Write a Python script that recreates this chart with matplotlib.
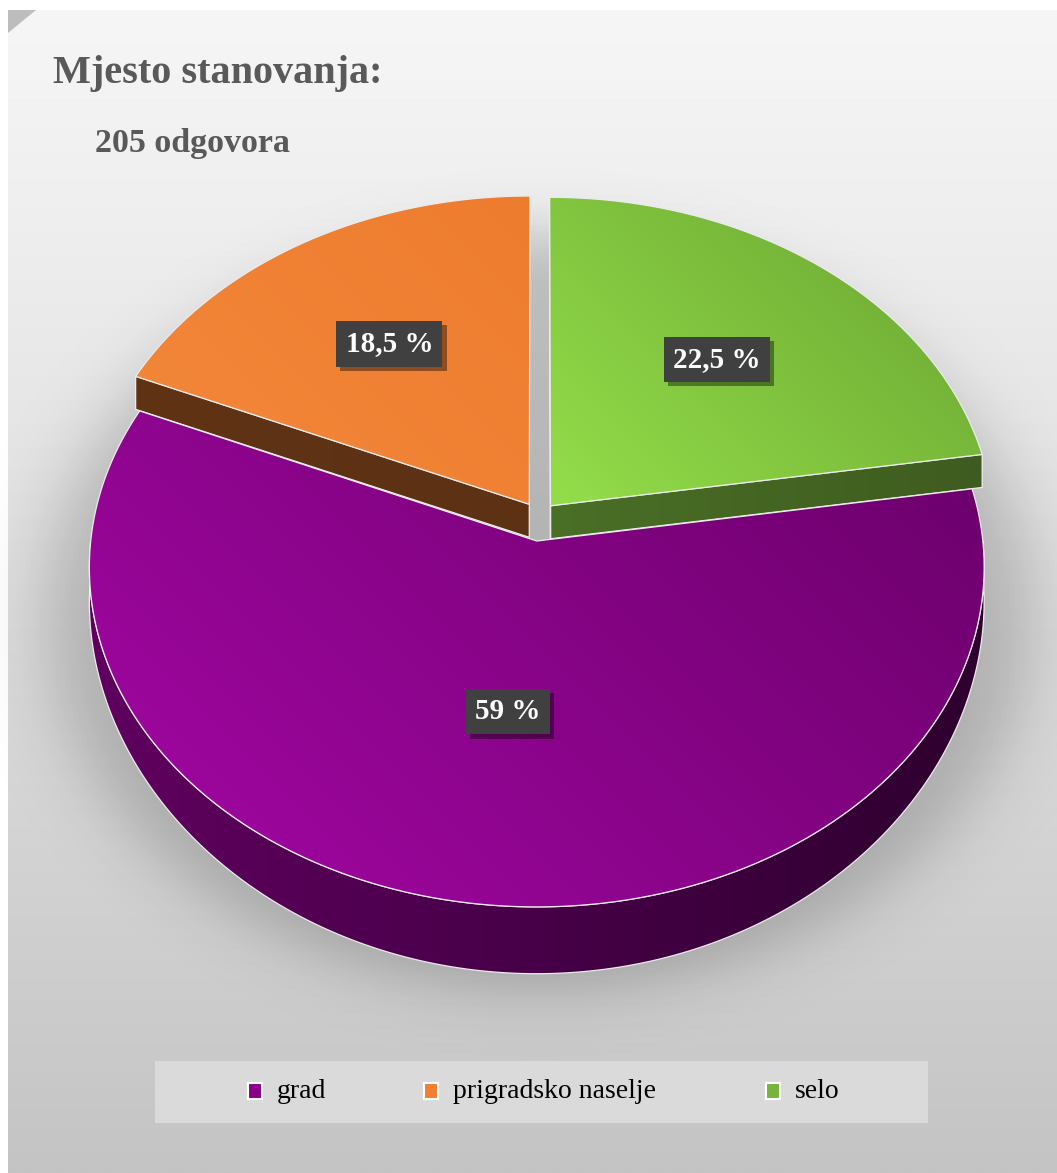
import numpy as np
import matplotlib
matplotlib.use("Agg")
import matplotlib.pyplot as plt
from matplotlib import patheffects as pe
from matplotlib.colors import to_rgb
from matplotlib.patches import Polygon, Rectangle

# data
categories = ["grad", "prigradsko naselje", "selo"]
shares = [59, 18.5, 22.5]
n_answers = 205
top_colors = [("#a507a5", "#6a006a"), ("#f3883a", "#ee7c2f"), ("#94de4a", "#69a331")]
side_colors = [("#600060", "#2e002e"), ("#603315", "#5c3114"), ("#4a6f26", "#3e5c1f")]
legend_colors = ["#8a008a", "#ef7f31", "#76b43c"]
label_radius = [0.49, 0.6, 0.6]

# layout of the fake 3d pie, in pixels
W, H = 1057, 1173
CX, CY, RX, RY, PERSP = 539, 521, 444, 334.5, 0.077
FIRST_ANGLE, EXPLODE_U, EXPLODE_V = 81, 0.04, 0.06
SERIF = "Liberation Serif"


def depth(v):
    return 33 + 31 * np.clip(v, 0, None) ** 1.5


def proj(u, v, bottom=False):
    u = np.atleast_1d(np.asarray(u, float))
    v = np.atleast_1d(np.asarray(v, float))
    s = 1 / (1 - PERSP * v)
    x = CX + RX * u * s
    y = CY + RY * v * s
    if bottom:
        y = y + depth(v)
    return np.column_stack([x, y])


def grad_fill(ax, verts, c0, c1, direction=(1, -1), z=2, edge=None):
    poly = Polygon(verts, closed=True, fc="none", ec="none", zorder=z)
    ax.add_patch(poly)
    x0, y0 = verts.min(0)
    x1, y1 = verts.max(0)
    nx, ny = max(int(x1 - x0), 2), max(int(y1 - y0), 2)
    X, Y = np.meshgrid(np.linspace(x0, x1, nx), np.linspace(y0, y1, ny))
    d = np.array(direction, float)
    d /= np.linalg.norm(d)
    t = X * d[0] + Y * d[1]
    t = (t - t.min()) / (np.ptp(t) + 1e-9)
    img = (1 - t)[..., None] * np.array(to_rgb(c0)) + t[..., None] * np.array(to_rgb(c1))
    im = ax.imshow(img, extent=(x0, x1, y1, y0), origin="upper", aspect="auto",
                   zorder=z, interpolation="bilinear")
    im.set_clip_path(poly)
    if edge:
        ax.add_patch(Polygon(verts, closed=True, fc="none", ec=edge, lw=0.9,
                             zorder=z + 0.01, joinstyle="round"))


fig = plt.figure(figsize=(W / 100, H / 100), dpi=100, facecolor="white")
ax = fig.add_axes([0, 0, 1, 1])
ax.set_autoscale_on(False)
ax.axis("off")

# panel background
yy = np.linspace(0, 1, 400)[:, None, None]
bg = (1 - yy ** 1.1) * np.array(to_rgb("#f6f6f6")) + yy ** 1.1 * np.array(to_rgb("#c4c4c4"))
ax.imshow(np.repeat(bg, 2, axis=1), extent=(8, W, H, 10), origin="upper",
          aspect="auto", zorder=0, interpolation="bilinear")
ax.add_patch(Polygon([(8, 10), (36, 10), (8, 33)], closed=True, fc="#bdbdbd", ec="none", zorder=0.5))

# soft shadow under the pie
gx, gy = np.meshgrid(np.arange(0, W, 2), np.arange(0, H, 2))
rho = np.sqrt(((gx - CX) / 492) ** 2 + ((gy - 612) / 378) ** 2)
alpha = 0.2 / (1 + np.exp((rho - 1) / 0.045))
shadow = np.zeros(gx.shape + (4,))
shadow[..., 3] = alpha
ax.imshow(shadow, extent=(0, W, H, 0), origin="upper", aspect="auto", zorder=1,
          interpolation="bilinear")

# slices
vals = np.array(shares, float)
ends = FIRST_ANGLE + 360 * np.cumsum(vals) / vals.sum()
starts = ends - 360 * vals / vals.sum()
mids = (starts + ends) / 2
order = np.argsort(-np.cos(np.radians(mids)))
edge_col = "#ececec"

for z_base, i in enumerate(order):
    a1, a2, am = starts[i], ends[i], mids[i]
    eu = EXPLODE_U * np.sin(np.radians(am))
    ev = -EXPLODE_V * np.cos(np.radians(am))
    z = 2 + z_base
    # radial cut faces
    for a, show in ((a1, np.sin(np.radians(a1)) < 0), (a2, np.sin(np.radians(a2)) > 0)):
        if not show:
            continue
        ru, rv = eu + np.sin(np.radians(a)), ev - np.cos(np.radians(a))
        quad = np.vstack([proj(eu, ev), proj(ru, rv), proj(ru, rv, True), proj(eu, ev, True)])
        grad_fill(ax, quad, side_colors[i][0], side_colors[i][1], (1, 0), z, edge_col)
    # outer curved side (front half only)
    lo, hi = max(a1, 90), min(a2, 270)
    if hi > lo:
        t = np.radians(np.linspace(lo, hi, 300))
        au, av = eu + np.sin(t), ev - np.cos(t)
        band = np.vstack([proj(au, av), proj(au, av, True)[::-1]])
        grad_fill(ax, band, side_colors[i][0], side_colors[i][1], (1, 0), z + 0.1, edge_col)
    # top face
    t = np.radians(np.linspace(a1, a2, 400))
    top = np.vstack([proj(eu, ev), proj(eu + np.sin(t), ev - np.cos(t))])
    grad_fill(ax, top, top_colors[i][0], top_colors[i][1], (1, -1), z + 0.2, edge_col)
    # data label
    r = label_radius[i]
    lx, ly = proj(eu + r * np.sin(np.radians(am)), ev - r * np.cos(np.radians(am)))[0]
    txt = f"{shares[i]:g}".replace(".", ",") + " %"
    lab = ax.text(lx, ly, txt, ha="center", va="center", fontsize=21, fontweight="bold",
                  family=SERIF, color="white", zorder=20,
                  bbox=dict(boxstyle="square,pad=0.32", fc="#404040", ec="none"))
    lab.get_bbox_patch().set_path_effects(
        [pe.withSimplePatchShadow(offset=(3, -3), shadow_rgbFace="black", alpha=0.4)])

# titles
ax.text(53, 83, "Mjesto stanovanja:", fontsize=29, fontweight="bold", family=SERIF,
        color="#595959", va="baseline", zorder=20)
ax.text(95, 152, f"{n_answers} odgovora", fontsize=24.5, fontweight="bold", family=SERIF,
        color="#595959", va="baseline", zorder=20)

# legend
ax.add_patch(Rectangle((155, 1061), 773, 62, fc="#dadada", ec="none", zorder=15))
legend_x = [248, 424, 766]
for name, col, x in zip(categories, legend_colors, legend_x):
    ax.add_patch(Rectangle((x, 1083), 14, 16, fc=col, ec="white", lw=1.5, zorder=16))
    ax.text(x + 29, 1091, name, fontsize=20, family=SERIF, color="black",
            va="center", ha="left", zorder=16)

ax.set_xlim(0, W)
ax.set_ylim(H, 0)
fig.savefig("out.png", dpi=100, facecolor="white")
